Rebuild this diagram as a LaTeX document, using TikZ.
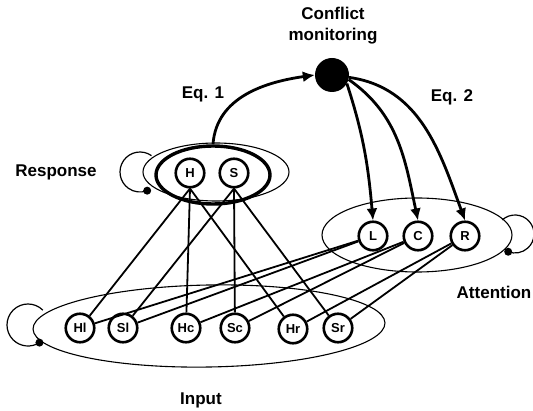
\documentclass[tikz,border=0pt]{standalone}
\usepackage{fontspec}
\setmainfont{Liberation Sans}
\usetikzlibrary{shapes,arrows.meta,positioning}

\begin{document}
\begin{tikzpicture}[x=1pt,y=1pt]
\tikzstyle{unit}=[draw,circle,line width=2.6pt,fill=white,minimum size=28.5pt,inner sep=0pt,font=\fontsize{13}{13}\selectfont\bfseries]
\tikzstyle{lbl}=[font=\fontsize{17}{21}\selectfont\bfseries,align=center]
\tikzstyle{conn}=[line width=1.8pt]
\tikzstyle{ctrl}=[line width=2.8pt,->,>={Latex[length=12pt,width=11pt]}]
\tikzstyle{selfloop}=[line width=1.2pt]
\useasboundingbox (0,0) rectangle (533,410);

% layer outlines
\draw[line width=1.1pt] (216,238) ellipse (73pt and 29pt);
\node[draw,ellipse,line width=3.4pt,minimum width=114pt,minimum height=58pt,inner sep=0pt] (resp) at (213,235) {};
\draw[line width=1.1pt] (417,175) ellipse (95pt and 37pt);
\draw[line width=1.1pt,rotate around={1:(209,84)}] (209,84) ellipse (176pt and 41pt);

% recurrent loops
\draw[selfloop] (140,238) ++(55:20) arc[start angle=55,end angle=291,radius=20];
\fill (140,238) ++(291:20) circle (4pt);
\draw[selfloop] (515,176) ++(132:19) arc[start angle=132,end angle=-111,radius=19];
\fill (515,176) ++(-111:19) circle (4pt);
\draw[selfloop] (28,85) ++(45:21) arc[start angle=45,end angle=303,radius=21];
\fill (28,85) ++(303:21) circle (4pt);

% labels
\node[lbl] (cmlabel) at (333,384) {Conflict\\monitoring};
\node[lbl] (eq1) at (203,316) {Eq. 1};
\node[lbl] (eq2) at (452,313) {Eq. 2};
\node[lbl] (resplabel) at (56,238) {Response};
\node[lbl] (attlabel) at (494,118) {Attention};
\node[lbl] (inlabel) at (201,10) {Input};

% units
\node[circle,fill=black,minimum size=34pt,inner sep=0pt] (cm) at (332,335) {};
\node[unit] (H) at (190,237) {H};
\node[unit] (S) at (234,237) {S};
\node[unit] (L) at (373,174) {L};
\node[unit] (C) at (418,174) {C};
\node[unit] (R) at (465,174) {R};
\node[unit] (Hl) at (80,82) {Hl};
\node[unit] (Sl) at (123,82) {Sl};
\node[unit] (Hc) at (186,82) {Hc};
\node[unit] (Sc) at (235,82) {Sc};
\node[unit] (Hr) at (293,81) {Hr};
\node[unit] (Sr) at (338,82) {Sr};

% input to response
\draw[conn] (H.south) -- (Hl);
\draw[conn] (H.south) -- (Hc);
\draw[conn] (H.south) -- (Hr);
\draw[conn] (S.south) -- (Sl);
\draw[conn] (S.south) -- (Sc);
\draw[conn] (S.south) -- (Sr);

% input to attention
\draw[conn] (L) -- (Hl);
\draw[conn] (L) -- (Sl);
\draw[conn] (C) -- (Hc);
\draw[conn] (C) -- (Sc);
\draw[conn] (R) -- (Hr);
\draw[conn] (R) -- (Sr);

% conflict monitoring
\draw[ctrl] (resp.north) to[out=86,in=188] (cm.west);
\draw[ctrl] (cm.-30) to[out=-72,in=95] (L.north);
\draw[ctrl] (cm.-15) to[out=-35,in=102] (C.north);
\draw[ctrl] (cm.-8) to[out=-8,in=110] (R.north);
\end{tikzpicture}
\end{document}
